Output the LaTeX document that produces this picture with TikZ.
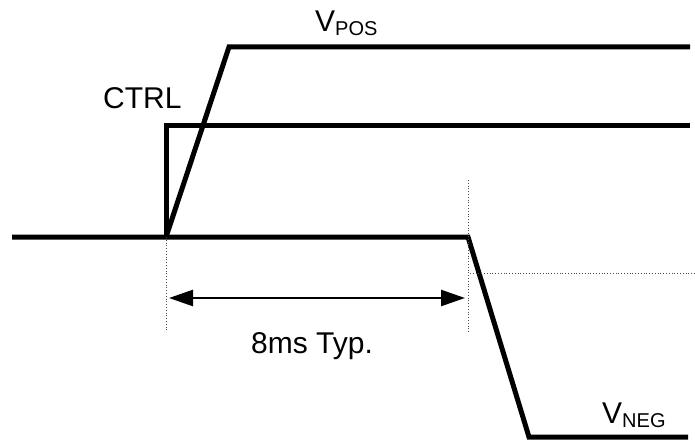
\documentclass[tikz,border=0pt]{standalone}
\usepackage{fontspec}
\setmainfont{Liberation Sans}
\usetikzlibrary{arrows.meta}
\begin{document}
\begin{tikzpicture}[x=1pt,y=-1pt,
  sig/.style={line width=5pt,line join=miter},
  guide/.style={line width=0.8pt,dotted,black!70},
  dim/.style={line width=2.5pt,{Triangle[length=24pt,width=16pt]}-{Triangle[length=24pt,width=16pt]}},
  lbl/.style={font=\fontsize{30}{32}\selectfont,inner sep=0pt,anchor=base west}]
\useasboundingbox (0,0) rectangle (695,444);
\coordinate (s0) at (12,237);
\coordinate (t0) at (166,237);
\coordinate (p1) at (229,47);
\coordinate (p2) at (690,47);
\coordinate (c1) at (166,125);
\coordinate (c2) at (690,125);
\coordinate (t1) at (468,237);
\coordinate (n1) at (529,437);
\coordinate (n2) at (688,437);
\draw[sig] (s0) -- (t1) -- (n1) -- (n2);
\draw[sig] (t0) -- (p1) -- (p2);
\draw[sig] (t0) -- (c1) -- (c2);
\coordinate (g1) at (166,332);
\coordinate (g2a) at (468,180);
\coordinate (g2b) at (468,333);
\coordinate (h1) at (470,273);
\coordinate (h2) at (695,273);
\draw[guide] (t0) -- (g1);
\draw[guide] (g2a) -- (g2b);
\draw[guide] (h1) -- (h2);
\coordinate (a1) at (169,298);
\coordinate (a2) at (465,298);
\draw[dim] (a1) -- (a2);
\node[lbl] (vpos) at (315,32) {V\raisebox{-4pt}{\fontsize{20}{22}\selectfont POS}};
\node[lbl] (ctrl) at (103,108) {CTRL};
\node[lbl] (typ) at (251,353) {8ms Typ.};
\node[lbl] (vneg) at (602,423) {V\raisebox{-4pt}{\fontsize{20}{22}\selectfont NEG}};
\end{tikzpicture}
\end{document}
